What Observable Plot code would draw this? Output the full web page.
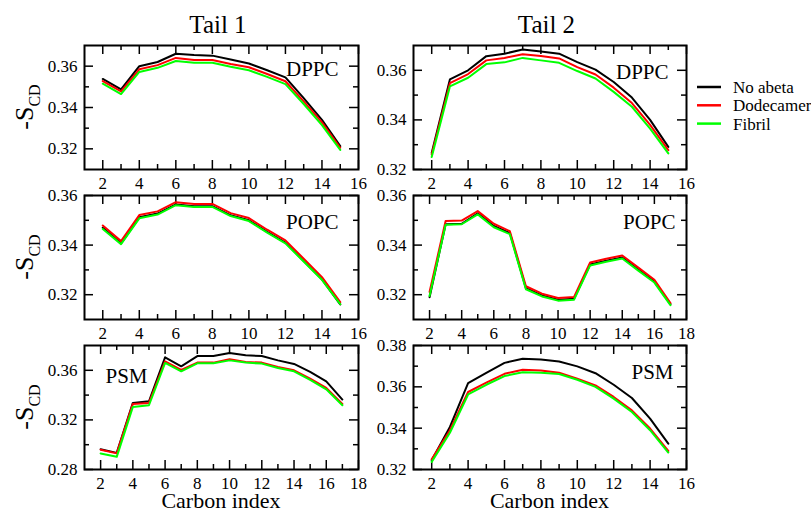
<!DOCTYPE html>
<html><head><meta charset="utf-8">
<script src="https://cdn.jsdelivr.net/npm/d3@7"></script>
<script src="https://cdn.jsdelivr.net/npm/@observablehq/plot@0.6"></script>
<style>
body{margin:0;background:#fff;}
#chart{position:relative;width:811px;height:512px;overflow:hidden;background:#fff;font-family:"Liberation Serif","Times New Roman",serif;}
#chart svg, #chart svg text{font-family:"Liberation Serif","Times New Roman",serif !important;}
.panel{position:absolute;}
#overlay{position:absolute;left:0;top:0;}
</style></head><body><div id="chart"></div>
<script>
// ---------- data ----------
const seriesNames = ["No abeta", "Dodecamer", "Fibril"];
const seriesColors = ["#000000", "#ff0000", "#00ff00"];
const tailTitles = ["Tail 1", "Tail 2"];
const xTitle = "Carbon index";

const carbon2to15 = [2,3,4,5,6,7,8,9,10,11,12,13,14,15];
const carbon2to17 = [2,3,4,5,6,7,8,9,10,11,12,13,14,15,16,17];

const xTicks16 = [2,4,6,8,10,12,14,16];
const xMinor16 = [3,5,7,9,11,13,15];
const xTicks18 = [2,4,6,8,10,12,14,16,18];
const xMinor18 = [3,5,7,9,11,13,15,17];
const yTicksA = [0.32,0.34,0.36];
const yMinorA = [0.33,0.35];
const yTicksPSM1 = [0.28,0.32,0.36];
const yMinorPSM1 = [0.30,0.34];
const yTicksPSM2 = [0.32,0.34,0.36,0.38];
const yMinorPSM2 = [0.33,0.35,0.37];

// Tail 1 DPPC
const t1DPPC_noAbeta   = [0.3538,0.3488,0.3600,0.3620,0.3660,0.3654,0.3651,0.3632,0.3613,0.3580,0.3546,0.3445,0.3340,0.3213];
const t1DPPC_dodecamer = [0.3528,0.3478,0.3585,0.3605,0.3640,0.3630,0.3630,0.3610,0.3595,0.3562,0.3527,0.3430,0.3328,0.3205];
const t1DPPC_fibril    = [0.3515,0.3465,0.3572,0.3592,0.3625,0.3617,0.3617,0.3597,0.3580,0.3548,0.3513,0.3417,0.3315,0.3195];
// Tail 2 DPPC
const t2DPPC_noAbeta   = [0.3267,0.3563,0.3600,0.3657,0.3667,0.3684,0.3676,0.3667,0.3633,0.3603,0.3553,0.3490,0.3400,0.3291];
const t2DPPC_dodecamer = [0.3260,0.3548,0.3585,0.3640,0.3650,0.3665,0.3658,0.3648,0.3613,0.3583,0.3530,0.3468,0.3380,0.3278];
const t2DPPC_fibril    = [0.3250,0.3535,0.3570,0.3625,0.3632,0.3650,0.3640,0.3630,0.3597,0.3567,0.3513,0.3453,0.3365,0.3265];
// Tail 1 POPC
const t1POPC_noAbeta   = [0.3470,0.3407,0.3512,0.3527,0.3564,0.3557,0.3557,0.3520,0.3500,0.3453,0.3410,0.3336,0.3262,0.3161];
const t1POPC_dodecamer = [0.3479,0.3416,0.3521,0.3536,0.3573,0.3566,0.3566,0.3529,0.3509,0.3462,0.3419,0.3345,0.3271,0.3170];
const t1POPC_fibril    = [0.3465,0.3404,0.3508,0.3523,0.3561,0.3554,0.3554,0.3517,0.3497,0.3450,0.3407,0.3334,0.3260,0.3162];
// Tail 2 POPC
const t2POPC_noAbeta   = [0.3190,0.3484,0.3486,0.3528,0.3477,0.3449,0.3226,0.3197,0.3180,0.3184,0.3322,0.3337,0.3350,0.3301,0.3253,0.3162];
const t2POPC_dodecamer = [0.3211,0.3497,0.3499,0.3537,0.3486,0.3456,0.3234,0.3204,0.3187,0.3191,0.3330,0.3345,0.3358,0.3309,0.3260,0.3166];
const t2POPC_fibril    = [0.3195,0.3482,0.3484,0.3524,0.3472,0.3444,0.3222,0.3193,0.3176,0.3180,0.3318,0.3333,0.3346,0.3297,0.3249,0.3158];
// Tail 1 PSM
const t1PSM_noAbeta    = [0.2964,0.2934,0.3337,0.3350,0.3705,0.3632,0.3715,0.3715,0.3740,0.3721,0.3715,0.3680,0.3651,0.3587,0.3511,0.3364];
const t1PSM_dodecamer  = [0.2960,0.2930,0.3329,0.3337,0.3672,0.3603,0.3662,0.3662,0.3689,0.3667,0.3662,0.3627,0.3600,0.3533,0.3458,0.3329];
const t1PSM_fibril     = [0.2929,0.2902,0.3305,0.3318,0.3659,0.3592,0.3656,0.3656,0.3680,0.3662,0.3654,0.3619,0.3592,0.3522,0.3447,0.3318];
// Tail 2 PSM
const t2PSM_noAbeta    = [0.3245,0.3406,0.3618,0.3668,0.3716,0.3736,0.3732,0.3723,0.3699,0.3666,0.3610,0.3546,0.3446,0.3325];
const t2PSM_dodecamer  = [0.3250,0.3390,0.3575,0.3620,0.3663,0.3683,0.3679,0.3668,0.3639,0.3607,0.3551,0.3486,0.3398,0.3290];
const t2PSM_fibril     = [0.3237,0.3378,0.3563,0.3610,0.3652,0.3671,0.3668,0.3662,0.3634,0.3600,0.3543,0.3478,0.3390,0.3282];

// ---------- layout ----------
const FONT = '"Liberation Serif", "Times New Roman", serif';
const colLeft = [84, 413];
const colWidth = [274, 273];
const rowTop = [45, 195, 345];
const frameH = 124;

const panels = [
  {col:0,row:0,label:"DPPC",side:"right",lx:20,ly:30,x:carbon2to15,vals:[t1DPPC_noAbeta,t1DPPC_dodecamer,t1DPPC_fibril],xd:[1,16],yd:[0.31,0.37],xt:xTicks16,xm:xMinor16,yt:yTicksA,ym:yMinorA},
  {col:1,row:0,label:"DPPC",side:"right",lx:18,ly:33,x:carbon2to15,vals:[t2DPPC_noAbeta,t2DPPC_dodecamer,t2DPPC_fibril],xd:[1,16],yd:[0.32,0.37],xt:xTicks16,xm:xMinor16,yt:yTicksA,ym:yMinorA},
  {col:0,row:1,label:"POPC",side:"right",lx:20,ly:33,x:carbon2to15,vals:[t1POPC_noAbeta,t1POPC_dodecamer,t1POPC_fibril],xd:[1,16],yd:[0.31,0.36],xt:xTicks16,xm:xMinor16,yt:yTicksA,ym:yMinorA},
  {col:1,row:1,label:"POPC",side:"right",lx:11,ly:33,x:carbon2to17,vals:[t2POPC_noAbeta,t2POPC_dodecamer,t2POPC_fibril],xd:[1,18],yd:[0.31,0.36],xt:xTicks18,xm:xMinor18,yt:yTicksA,ym:yMinorA},
  {col:0,row:2,label:"PSM",side:"left",lx:21,ly:37,x:carbon2to17,vals:[t1PSM_noAbeta,t1PSM_dodecamer,t1PSM_fibril],xd:[1,18],yd:[0.28,0.38],xt:xTicks18,xm:xMinor18,yt:yTicksPSM1,ym:yMinorPSM1},
  {col:1,row:2,label:"PSM",side:"right",lx:13,ly:33,x:carbon2to15,vals:[t2PSM_noAbeta,t2PSM_dodecamer,t2PSM_fibril],xd:[1,16],yd:[0.32,0.38],xt:xTicks16,xm:xMinor16,yt:yTicksPSM2,ym:yMinorPSM2}
];

const chart = document.getElementById("chart");
const mL = 55, mR = 14, mT = 10, mB = 30;
const fontTick = 17;

for (const p of panels) {
  const iw = colWidth[p.col], ih = frameH;
  const data = seriesNames.flatMap((s, i) => p.x.map((c, j) => ({carbon: c, scd: p.vals[i][j], series: s})));
  const major = 9, minor = 5;
  const tickStyle = {stroke: "black", strokeWidth: 1.5};
  const plot = Plot.plot({
    width: iw + mL + mR,
    height: ih + mT + mB,
    marginLeft: mL, marginRight: mR, marginTop: mT, marginBottom: mB,
    style: {background: "transparent", overflow: "visible", fontFamily: FONT, fontSize: fontTick + "px", color: "black"},
    x: {domain: p.xd},
    y: {domain: p.yd},
    color: {domain: seriesNames, range: seriesColors},
    marks: [
      Plot.axisX(p.xt, {tickSize: 0, tickPadding: 7, fontSize: fontTick, fontFamily: FONT, label: null}),
      Plot.axisY(p.yt, {tickSize: 0, tickPadding: 7, fontSize: fontTick, fontFamily: FONT, label: null, tickFormat: d3.format(".2f")}),
      Plot.ruleX(p.xt, {x: d => d, insetTop: ih - major, ...tickStyle}),
      Plot.ruleX(p.xt, {x: d => d, insetBottom: ih - major, ...tickStyle}),
      Plot.ruleX(p.xm, {x: d => d, insetTop: ih - minor, ...tickStyle}),
      Plot.ruleX(p.xm, {x: d => d, insetBottom: ih - minor, ...tickStyle}),
      Plot.ruleY(p.yt, {y: d => d, insetRight: iw - major, ...tickStyle}),
      Plot.ruleY(p.yt, {y: d => d, insetLeft: iw - major, ...tickStyle}),
      Plot.ruleY(p.ym, {y: d => d, insetRight: iw - minor, ...tickStyle}),
      Plot.ruleY(p.ym, {y: d => d, insetLeft: iw - minor, ...tickStyle}),
      Plot.line(data, {x: "carbon", y: "scd", z: "series", stroke: "series", strokeWidth: 2}),
      Plot.frame({stroke: "black", strokeWidth: 2}),
      Plot.text([p.label], {
        text: d => d,
        frameAnchor: p.side === "right" ? "top-right" : "top-left",
        textAnchor: p.side === "right" ? "end" : "start",
        lineAnchor: "bottom",
        dx: p.side === "right" ? -p.lx : p.lx,
        dy: p.ly,
        fontSize: 21,
        fontFamily: FONT,
        fill: "black"
      })
    ]
  });
  const div = document.createElement("div");
  div.className = "panel";
  div.style.left = (colLeft[p.col] - mL) + "px";
  div.style.top = (rowTop[p.row] - mT) + "px";
  div.style.width = (iw + mL + mR) + "px";
  div.appendChild(plot);
  chart.appendChild(div);
}

// ---------- overlay texts & legend ----------
const svg = d3.select(chart).append("svg").attr("id", "overlay")
  .attr("width", 811).attr("height", 512)
  .style("font-family", FONT)
  .style("pointer-events", "none");

const colCenter = colLeft.map((l, i) => l + colWidth[i] / 2);
tailTitles.forEach((t, i) => {
  svg.append("text").attr("x", colCenter[i] - 3).attr("y", 33)
    .attr("text-anchor", "middle").attr("font-size", 25).text(t);
  svg.append("text").attr("x", colCenter[i]).attr("y", 508)
    .attr("text-anchor", "middle").attr("font-size", 22).text(xTitle);
});

rowTop.forEach(t => {
  const cy = t + frameH / 2;
  const txt = svg.append("text").attr("transform", `translate(33,${cy}) rotate(-90)`)
    .attr("text-anchor", "middle").attr("font-size", 26);
  txt.append("tspan").text("-S");
  txt.append("tspan").attr("font-size", 16).attr("dy", 7).text("CD");
});

seriesNames.forEach((s, i) => {
  const y = 87 + i * 18.3;
  svg.append("line").attr("x1", 697).attr("x2", 721).attr("y1", y).attr("y2", y)
    .attr("stroke", seriesColors[i]).attr("stroke-width", 2.5);
  svg.append("text").attr("x", 733).attr("y", y + 6).attr("font-size", 17).text(s);
});
</script></body></html>
